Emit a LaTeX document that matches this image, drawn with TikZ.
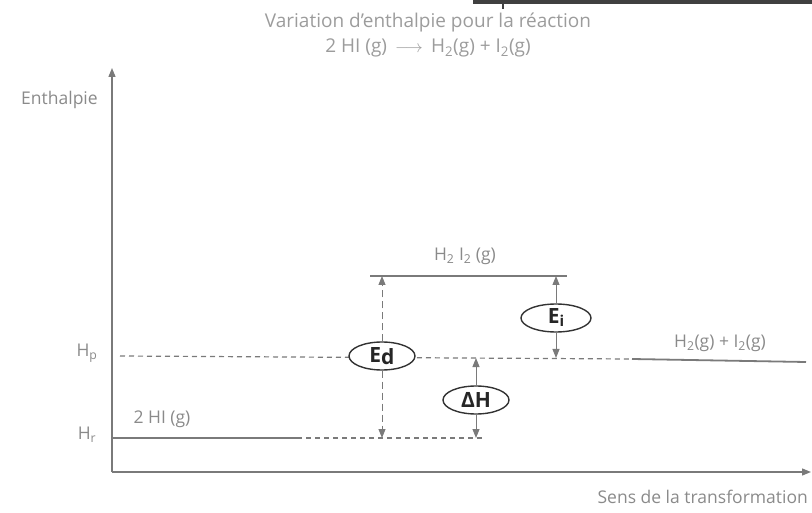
\documentclass[tikz,border=0pt]{standalone}
\usepackage{fontspec}
\setmainfont{Open Sans}
\usetikzlibrary{shapes.geometric,arrows.meta}
\definecolor{txtgray}{HTML}{8A8A8A}
\definecolor{lngray}{HTML}{7A7A7A}
\tikzset{
  lbl/.style={text=txtgray, font=\fontsize{17.5}{19}\selectfont, inner sep=0pt},
  ttl/.style={text=txtgray!85, font=\fontsize{19}{25}\selectfont, inner sep=0pt, align=center},
  axis/.style={draw=lngray, line width=1.3pt, -{Triangle[length=9pt,width=7pt]}},
  level/.style={draw=lngray, line width=1.8pt},
  dlevel/.style={draw=lngray, line width=1.2pt, dash pattern=on 5pt off 4pt},
  varr/.style={draw=lngray, line width=1pt, -{Triangle[length=9pt,width=7pt]}},
  dvarr/.style={varr, dash pattern=on 7pt off 4pt},
  oval/.style={ellipse, draw=black!80, line width=1.4pt, fill=white, inner sep=0pt,
    minimum width=66pt, minimum height=28pt, text=black!85,
    font=\fontsize{21}{22}\selectfont\bfseries}
}
\begin{document}
\begin{tikzpicture}[x=1pt,y=-1pt]
\useasboundingbox (0,0) rectangle (812,513);
% scan artifact at top
\fill[black!75] (473,0) rectangle (812,4);
\draw[black!75, line width=2pt] (503,0) -- (503,9);
% title
\node[ttl] (title) at (428,35) {Variation d'enthalpie pour la réaction\\
  2 HI (g) \,$\longrightarrow$\, H\textsubscript{2}(g) + I\textsubscript{2}(g)};
% axes
\coordinate (O) at (112,472);
\coordinate (ytop) at (112,68);
\coordinate (xend) at (811,472);
\draw[axis] (O) -- (ytop);
\draw[axis] (O) -- (xend);
\node[lbl, anchor=west] (ent) at (21,100) {Enthalpie};
\node[lbl, anchor=east] (sens) at (808,497) {Sens de la transformation};
% levels
\coordinate (hrA) at (112,438);
\coordinate (hrB) at (297,438);
\coordinate (hrC) at (484,438);
\draw[level] (hrA) -- (hrB);
\draw[dlevel] (hrB) -- (hrC);
\coordinate (hpA) at (120,356);
\coordinate (hpB) at (632,359);
\coordinate (hpC) at (806,362);
\draw[dlevel] (hpA) -- (hpB);
\draw[level] (hpB) -- (hpC);
\coordinate (tsA) at (370,276);
\coordinate (tsB) at (567,276);
\draw[level] (tsA) -- (tsB);
% level labels
\node[lbl] (hp) at (87,353) {H\textsubscript{p}};
\node[lbl] (hr) at (87,435) {H\textsubscript{r}};
\node[lbl] (hi) at (162,419) {2 HI (g)};
\node[lbl] (ts) at (465,256) {H\textsubscript{2} I\textsubscript{2} (g)};
\node[lbl] (pr) at (720,343) {H\textsubscript{2}(g) + I\textsubscript{2}(g)};
% Ed
\node[oval] (Ed) at (382,356) {E\raisebox{-2pt}{d}};
\coordinate (EdT) at (382,276);
\coordinate (EdB) at (382,438);
\draw[dvarr] (Ed.north) -- (EdT);
\draw[dvarr] (Ed.south) -- (EdB);
% Ei
\node[oval, minimum width=70pt] (Ei) at (556,318) {E\raisebox{-3pt}{\fontsize{15}{16}\selectfont i}};
\coordinate (EiT) at (556,276);
\coordinate (EiB) at (556,358);
\draw[varr] (Ei.north) -- (EiT);
\draw[varr] (Ei.south) -- (EiB);
% Delta H
\node[oval] (dH) at (476,400) {ΔH};
\coordinate (dHT) at (476,358);
\coordinate (dHB) at (476,438);
\draw[varr] (dH.north) -- (dHT);
\draw[varr] (dH.south) -- (dHB);
\end{tikzpicture}
\end{document}
